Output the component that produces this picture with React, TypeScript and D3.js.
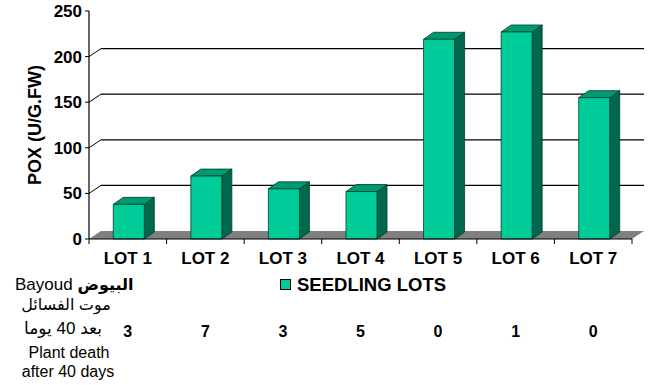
import React, { useEffect, useRef } from 'react';
import * as d3 from 'd3';

const categories = ['LOT 1', 'LOT 2', 'LOT 3', 'LOT 4', 'LOT 5', 'LOT 6', 'LOT 7'];
const poxValues = [38, 69, 55, 52, 219, 227, 155];
const plantDeaths = [3, 7, 3, 5, 0, 1, 0];
const yTicks = [0, 50, 100, 150, 200, 250];
const gridTicks = [50, 100, 150, 200];

const FONT = "Arial, 'Liberation Sans', 'DejaVu Sans', sans-serif";

export default function App() {
  const svgRef = useRef<SVGSVGElement>(null);

  useEffect(() => {
    document.body.style.margin = '0';
    if (!svgRef.current) return;
    const svg = d3.select(svgRef.current);
    svg.selectAll('*').remove();

    const left = 89, right = 632, bottom = 239, top = 11;
    // depth of the back wall and of the bars
    const wdx = 12, wdy = 8;
    const bdx = 10, bdy = 7;

    const x = d3.scaleBand().domain(categories).range([left, right]).padding(0);
    const y = d3.scaleLinear().domain([0, 250]).range([bottom, top]);

    // floor
    svg.append('polygon')
      .attr('points', [[left, bottom], [left + wdx, bottom - wdy], [right + wdx, bottom - wdy], [right, bottom]].map(p => p.join(',')).join(' '))
      .attr('fill', '#808080');

    // gridlines on back wall + side wall diagonals
    gridTicks.forEach(v => {
      svg.append('line')
        .attr('x1', left).attr('y1', y(v))
        .attr('x2', left + wdx).attr('y2', y(v) - wdy)
        .attr('stroke', '#000').attr('stroke-width', 1);
      svg.append('line')
        .attr('x1', left + wdx).attr('y1', y(v) - wdy)
        .attr('x2', right + wdx).attr('y2', y(v) - wdy)
        .attr('stroke', '#000').attr('stroke-width', 1.2);
    });

    // bars
    const bw = x.bandwidth() * 0.4;
    const bars = svg.append('g').attr('stroke', '#003d2c').attr('stroke-width', 0.8).attr('stroke-linejoin', 'round');
    categories.forEach((c, i) => {
      const x0 = (x(c) as number) + x.bandwidth() / 2 - bw / 2 + 1;
      const x1 = x0 + bw;
      const yt = y(poxValues[i]);
      bars.append('polygon')
        .attr('points', [[x1, yt], [x1 + bdx, yt - bdy], [x1 + bdx, bottom - bdy], [x1, bottom]].map(p => p.join(',')).join(' '))
        .attr('fill', '#00684e');
      bars.append('polygon')
        .attr('points', [[x0, yt], [x0 + bdx, yt - bdy], [x1 + bdx, yt - bdy], [x1, yt]].map(p => p.join(',')).join(' '))
        .attr('fill', '#009a72');
      bars.append('rect')
        .attr('x', x0).attr('y', yt)
        .attr('width', bw).attr('height', bottom - yt)
        .attr('fill', '#00cc99');
    });

    // y axis
    svg.append('line')
      .attr('x1', left).attr('y1', top).attr('x2', left).attr('y2', bottom)
      .attr('stroke', '#000').attr('stroke-width', 1.2);
    yTicks.forEach(v => {
      svg.append('line')
        .attr('x1', left - 4).attr('y1', y(v)).attr('x2', left).attr('y2', y(v))
        .attr('stroke', '#000');
      svg.append('text')
        .attr('x', 82).attr('y', y(v) + 6)
        .attr('text-anchor', 'end')
        .attr('font-family', FONT).attr('font-weight', 'bold').attr('font-size', 17)
        .text(v);
    });

    // x axis
    svg.append('line')
      .attr('x1', left).attr('y1', bottom).attr('x2', right).attr('y2', bottom)
      .attr('stroke', '#000').attr('stroke-width', 1.2);
    d3.range(categories.length + 1).forEach(i => {
      const xx = left + i * x.step();
      svg.append('line')
        .attr('x1', xx).attr('y1', bottom).attr('x2', xx).attr('y2', bottom + 5)
        .attr('stroke', '#000');
    });
    categories.forEach(c => {
      svg.append('text')
        .attr('x', (x(c) as number) + x.bandwidth() / 2).attr('y', 264)
        .attr('text-anchor', 'middle')
        .attr('font-family', FONT).attr('font-weight', 'bold').attr('font-size', 17)
        .text(c);
    });

    // y title
    svg.append('text')
      .attr('transform', 'translate(41,125) rotate(-90)')
      .attr('text-anchor', 'middle')
      .attr('font-family', FONT).attr('font-weight', 'bold').attr('font-size', 18)
      .text('POX (U/G.FW)');

    // legend
    svg.append('rect')
      .attr('x', 280.5).attr('y', 279.5).attr('width', 10).attr('height', 10)
      .attr('fill', '#00cc99').attr('stroke', '#000').attr('stroke-width', 1);
    svg.append('text')
      .attr('x', 297).attr('y', 291)
      .attr('font-family', FONT).attr('font-weight', 'bold').attr('font-size', 18.5)
      .text('SEEDLING LOTS');

    // plant death row
    plantDeaths.forEach((d, i) => {
      svg.append('text')
        .attr('x', (x(categories[i]) as number) + x.bandwidth() / 2).attr('y', 337)
        .attr('text-anchor', 'middle')
        .attr('font-family', FONT).attr('font-weight', 'bold').attr('font-size', 16)
        .text(d);
    });

    // row labels
    const lbl = svg.append('text')
      .attr('x', 15).attr('y', 290)
      .attr('font-family', FONT).attr('font-size', 17);
    lbl.append('tspan').text('Bayoud ');
    lbl.append('tspan').attr('font-weight', 'bold').attr('font-size', 16).text('البيوض');

    svg.append('text')
      .attr('x', 66).attr('y', 310)
      .attr('text-anchor', 'middle')
      .attr('font-family', FONT).attr('font-size', 16)
      .text('موت الفسائل');
    svg.append('text')
      .attr('x', 63).attr('y', 334)
      .attr('text-anchor', 'middle')
      .attr('font-family', FONT).attr('font-size', 17)
      .text('بعد 40 يوما');
    svg.append('text')
      .attr('x', 69).attr('y', 358)
      .attr('text-anchor', 'middle')
      .attr('font-family', FONT).attr('font-size', 16)
      .text('Plant death');
    svg.append('text')
      .attr('x', 68).attr('y', 377)
      .attr('text-anchor', 'middle')
      .attr('font-family', FONT).attr('font-size', 16)
      .text('after 40 days');
  }, []);

  return (
    <svg ref={svgRef} width={648} height={385} style={{ display: 'block', background: '#fff' }} />
  );
}
